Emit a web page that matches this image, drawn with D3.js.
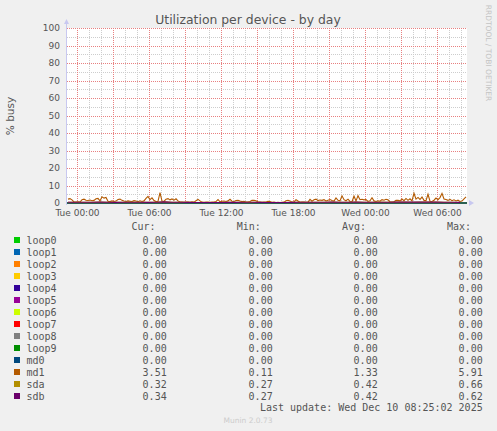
<!DOCTYPE html>
<html>
<head>
<meta charset="utf-8">
<script src="https://cdn.jsdelivr.net/npm/d3@7/dist/d3.min.js"></script>
<style>
  html, body { margin: 0; padding: 0; background: #f0f0f0; }
  svg { display: block; }
</style>
</head>
<body>
<div id="chart"></div>
<script>
"use strict";

const DEVICES = ["loop0", "loop1", "loop2", "loop3", "loop4", "loop5", "loop6", "loop7", "loop8", "loop9", "md0", "md1", "sda", "sdb"];
const COLORS = ["#00cc00", "#0066b3", "#ff8000", "#ffcc00", "#330099", "#990099", "#ccff00", "#ff0000", "#808080", "#008f00", "#00487d", "#b35a00", "#b38f00", "#6b006b"];
const CUR = ["0.00", "0.00", "0.00", "0.00", "0.00", "0.00", "0.00", "0.00", "0.00", "0.00", "0.00", "3.51", "0.32", "0.34"];
const MIN = ["0.00", "0.00", "0.00", "0.00", "0.00", "0.00", "0.00", "0.00", "0.00", "0.00", "0.00", "0.11", "0.27", "0.27"];
const AVG = ["0.00", "0.00", "0.00", "0.00", "0.00", "0.00", "0.00", "0.00", "0.00", "0.00", "0.00", "1.33", "0.42", "0.42"];
const MAX = ["0.00", "0.00", "0.00", "0.00", "0.00", "0.00", "0.00", "0.00", "0.00", "0.00", "0.00", "5.91", "0.66", "0.62"];

// md1, one sample every 10 minutes from Mon 23:15
const MD1 = [
  2.2, 2.5, 1.8, 0.6, 0.5, 0.7, 0.5, 1.9, 2.2, 1.6,
  1.4, 1.7, 1.3, 1.5, 2.4, 2.6, 1.2, 3.5, 2.8, 3.2,
  1.0, 0.8, 1.2, 0.9, 1.1, 2.0, 2.2, 1.5, 1.1, 0.9,
  1.2, 1.0, 0.8, 1.4, 1.1, 0.7, 1.3, 0.9, 1.2, 2.6,
  3.8, 1.9, 2.9, 1.4, 0.8, 1.0, 5.91, 1.1, 0.9, 2.2,
  2.5, 1.8, 2.3, 1.6, 2.4, 1.2, 0.6, 0.5, 0.4, 0.6,
  0.5, 0.4, 0.7, 0.5, 1.3, 2.1, 1.2, 0.5, 0.4, 0.6,
  0.5, 0.4, 0.6, 0.5, 0.8, 2.0, 0.7, 1.0, 1.1, 0.9,
  1.2, 2.1, 1.0, 0.9, 1.4, 1.6, 1.1, 0.8, 1.0, 0.6,
  0.5, 0.9, 1.5, 1.6, 1.3, 0.6, 0.5, 0.4, 0.5, 0.6,
  1.0, 0.8, 0.4, 0.5, 0.3, 0.4, 0.3, 0.4, 0.5, 1.3,
  1.6, 1.2, 0.5, 0.6, 1.9, 1.1, 0.4, 0.5, 0.6, 0.4,
  0.5, 2.1, 1.0, 1.8, 2.2, 1.4, 1.7, 1.5, 1.9, 1.2,
  1.6, 2.0, 1.4, 1.1, 2.9, 1.5, 1.2, 4.1, 1.9, 1.3,
  2.2, 0.9, 0.7, 4.0, 1.1, 4.2, 1.9, 2.1, 1.8, 2.0,
  0.9, 1.3, 3.0, 1.2, 0.9, 1.3, 1.0, 1.9, 1.6, 2.1,
  1.8, 0.6, 0.5, 0.7, 1.6, 1.5, 1.2, 2.3, 1.3, 2.6,
  1.5, 2.4, 1.2, 5.6, 2.2, 3.2, 2.0, 3.4, 1.5, 1.4,
  5.0, 1.0, 0.9, 1.6, 2.8, 1.9, 3.1, 5.5, 2.3, 2.0,
  1.5, 2.1, 1.3, 1.8, 1.2, 1.6, 0.9, 1.1, 2.4, 3.51
];
// sda / sdb, one sample every 40 minutes from Mon 23:15
const SDA = [
  0.42, 0.45, 0.38, 0.40, 0.52, 0.44, 0.36, 0.41, 0.48, 0.39,
  0.35, 0.43, 0.66, 0.47, 0.40, 0.33, 0.30, 0.29, 0.28, 0.31,
  0.34, 0.36, 0.42, 0.38, 0.33, 0.30, 0.28, 0.27, 0.35, 0.41,
  0.44, 0.39, 0.46, 0.50, 0.43, 0.47, 0.52, 0.45, 0.41, 0.48,
  0.44, 0.50, 0.55, 0.47, 0.52, 0.58, 0.49, 0.45, 0.40, 0.32
];
const SDB = [
  0.41, 0.44, 0.39, 0.41, 0.50, 0.45, 0.37, 0.40, 0.47, 0.40,
  0.36, 0.44, 0.62, 0.46, 0.41, 0.34, 0.31, 0.28, 0.27, 0.30,
  0.35, 0.37, 0.41, 0.39, 0.34, 0.31, 0.29, 0.28, 0.36, 0.40,
  0.45, 0.40, 0.45, 0.49, 0.44, 0.46, 0.51, 0.46, 0.42, 0.47,
  0.45, 0.49, 0.54, 0.48, 0.51, 0.57, 0.48, 0.46, 0.41, 0.34
];
// loops and md0 sit at zero over the whole window
const ZERO = [0, 0];

const Y_TICKS = [0, 10, 20, 30, 40, 50, 60, 70, 80, 90, 100];
const Y_MINOR = [5, 15, 25, 35, 45, 55, 65, 75, 85, 95];
const HEADERS = ["Cur:", "Min:", "Avg:", "Max:"];

const START = new Date(2025, 11, 8, 23, 10);
const END = new Date(2025, 11, 10, 8, 30);
const FIRST = new Date(2025, 11, 8, 23, 15);

(function drawChart() {
  const W = 497, H = 431;
  const PL = 67, PR = 467, PT = 28, PB = 203;
  const SANS = '"DejaVu Sans", sans-serif';
  const MONO = '"DejaVu Sans Mono", monospace';
  const TXT = "#555555";
  const MAJOR = "#e88080", MINOR = "#cdcdcd";

  const svg = d3.select("#chart").append("svg").attr("width", W).attr("height", H);
  svg.append("rect").attr("width", W).attr("height", H).attr("fill", "#f0f0f0");

  const x = d3.scaleTime().domain([START, END]).range([PL, PR]);
  const y = d3.scaleLinear().domain([0, 100]).range([PB, PT]);

  svg.append("rect").attr("x", PL).attr("y", PT).attr("width", PR - PL).attr("height", PB - PT).attr("fill", "#ffffff");

  // grid
  const grid = svg.append("g").attr("shape-rendering", "crispEdges");
  const hours = d3.timeHour.range(d3.timeHour.ceil(START), END);
  grid.selectAll("line.vminor").data(hours.filter(function minorHour(d) { return d.getHours() % 3 !== 0; })).join("line")
    .attr("class", "vminor").attr("x1", function gx(d) { return Math.round(x(d)) + 0.5; }).attr("x2", function gx2(d) { return Math.round(x(d)) + 0.5; })
    .attr("y1", PT).attr("y2", PB).attr("stroke", MINOR).attr("stroke-dasharray", "1,1");
  grid.selectAll("line.hminor").data(Y_MINOR).join("line")
    .attr("class", "hminor").attr("x1", PL).attr("x2", PR).attr("y1", function gy(d) { return Math.round(y(d)) + 0.5; }).attr("y2", function gy2(d) { return Math.round(y(d)) + 0.5; })
    .attr("stroke", MINOR).attr("stroke-dasharray", "1,1");
  grid.selectAll("line.vmajor").data(hours.filter(function majorHour(d) { return d.getHours() % 3 === 0; })).join("line")
    .attr("class", "vmajor").attr("x1", function mx(d) { return Math.round(x(d)) + 0.5; }).attr("x2", function mx2(d) { return Math.round(x(d)) + 0.5; })
    .attr("y1", PT).attr("y2", PB).attr("stroke", MAJOR).attr("stroke-dasharray", "1,1");
  grid.selectAll("line.hmajor").data(Y_TICKS.slice(1)).join("line")
    .attr("class", "hmajor").attr("x1", PL).attr("x2", PR).attr("y1", function my(d) { return Math.round(y(d)) + 0.5; }).attr("y2", function my2(d) { return Math.round(y(d)) + 0.5; })
    .attr("stroke", MAJOR).attr("stroke-dasharray", "1,1");

  // axes
  const yAxis = svg.append("g").attr("transform", "translate(" + (PL - 1) + ",0)")
    .call(d3.axisLeft(y).tickValues(Y_TICKS).tickSize(0).tickPadding(6));
  yAxis.select(".domain").remove();
  yAxis.selectAll("text").attr("font-family", SANS).attr("font-size", 9).attr("fill", TXT);

  const xTicks = hours.filter(function labelHour(d) { return d.getHours() % 6 === 0; });
  const xAxis = svg.append("g").attr("transform", "translate(0," + PB + ")")
    .call(d3.axisBottom(x).tickValues(xTicks).tickSize(0).tickPadding(7).tickFormat(d3.timeFormat("%a %H:%M")));
  xAxis.select(".domain").remove();
  xAxis.selectAll("text").attr("font-family", SANS).attr("font-size", 9).attr("fill", TXT);

  // series
  const zeroTimes = [START, END];
  const md1Times = MD1.map(function t(_, i) { return d3.timeMinute.offset(FIRST, i * 10); });
  const diskTimes = SDA.map(function t(_, i) { return d3.timeMinute.offset(FIRST, i * 40); });
  const line = d3.line().x(function lx(d) { return x(d[0]); }).y(function ly(d) { return y(d[1]); });
  const seriesData = DEVICES.map(function mapDevice(name, i) {
    let pts;
    if (name === "md1") pts = d3.zip(md1Times, MD1);
    else if (name === "sda") pts = d3.zip(diskTimes, SDA);
    else if (name === "sdb") pts = d3.zip(diskTimes, SDB);
    else pts = d3.zip(zeroTimes, ZERO);
    return { name: name, color: COLORS[i], pts: pts };
  });
  svg.append("g").selectAll("path").data(seriesData).join("path")
    .attr("d", function pd(d) { return line(d.pts); }).attr("fill", "none")
    .attr("stroke", function ps(d) { return d.color; }).attr("stroke-width", 1.1);

  // axis lines + arrows
  svg.append("line").attr("x1", PL - 0.5).attr("x2", PL - 0.5).attr("y1", PB + 2).attr("y2", PT - 5).attr("stroke", "#c8c8f0");
  svg.append("path").attr("d", "M" + (PL - 3) + "," + (PT - 4) + "L" + (PL + 2) + "," + (PT - 4) + "L" + (PL - 0.5) + "," + (PT - 9) + "Z").attr("fill", "#c8c8f0");
  svg.append("path").attr("d", "M" + (PR + 2) + "," + (PB - 3) + "L" + (PR + 2) + "," + (PB + 3) + "L" + (PR + 7) + "," + PB + "Z").attr("fill", "#c8c8f0");

  // titles
  svg.append("text").attr("x", 248).attr("y", 24).attr("text-anchor", "middle").attr("font-family", SANS).attr("font-size", 12.4).attr("fill", TXT)
    .text("Utilization per device - by day");
  svg.append("text").attr("transform", "translate(14,116) rotate(-90)").attr("text-anchor", "middle").attr("font-family", SANS).attr("font-size", 10.5).attr("fill", TXT)
    .text("% busy");
  svg.append("text").attr("transform", "translate(485.5,53) rotate(90)").attr("text-anchor", "middle").attr("font-family", SANS).attr("font-size", 7.5).attr("fill", "#c4c4c4")
    .text("RRDTOOL / TOBI OETIKER");

  // legend
  const legend = svg.append("g").attr("font-family", MONO).attr("font-size", 10).attr("fill", TXT);
  const headerX = [131.5, 236.8, 342, 447];
  legend.selectAll("text.head").data(HEADERS).join("text").attr("class", "head")
    .attr("x", function hx(d, i) { return headerX[i]; }).attr("y", 230).text(function ht(d) { return d; });
  const colX = [166.7, 272.7, 377.7, 482.7];
  const rows = legend.selectAll("g.row").data(DEVICES).join("g").attr("class", "row")
    .attr("transform", function rt(d, i) { return "translate(0," + (240 + i * 12) + ")"; });
  rows.append("rect").attr("x", 14).attr("y", -3).attr("width", 6).attr("height", 6).attr("fill", function rc(d, i) { return COLORS[i]; });
  rows.append("text").attr("x", 26.5).attr("y", 3.5).text(function rn(d) { return d; });
  [CUR, MIN, AVG, MAX].forEach(function addColumn(col, c) {
    rows.append("text").attr("x", colX[c]).attr("y", 3.5).attr("text-anchor", "end").text(function cv(d, i) { return col[i]; });
  });
  legend.append("text").attr("x", 482.7).attr("y", 411).attr("text-anchor", "end").text("Last update: Wed Dec 10 08:25:02 2025");
  svg.append("text").attr("x", 248).attr("y", 422.5).attr("text-anchor", "middle").attr("font-family", SANS).attr("font-size", 7.5).attr("fill", "#cccccc")
    .text("Munin 2.0.73");
})();
</script>
</body>
</html>
